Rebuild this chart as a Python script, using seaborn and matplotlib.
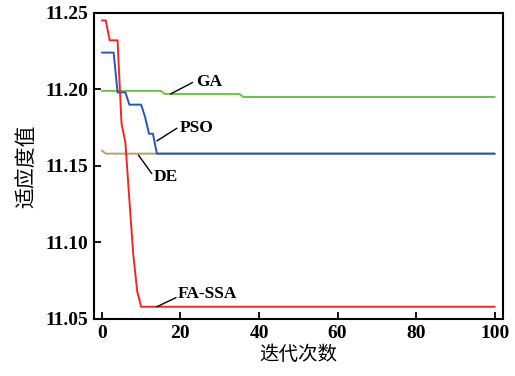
import numpy as np
import pandas as pd
import seaborn as sns
import matplotlib
matplotlib.use('Agg')
import matplotlib.pyplot as plt

# iterations 0..100
iters = list(range(101))

# FA-SSA
fassa_head = [11.245, 11.245, 11.232, 11.232, 11.232, 11.178, 11.165, 11.128, 11.092, 11.068, 11.058]
fassa = fassa_head + [11.058] * (101 - len(fassa_head))

# PSO
pso_head = [11.224, 11.224, 11.224, 11.224, 11.198, 11.198, 11.198, 11.190, 11.190, 11.190,
            11.190, 11.182, 11.171, 11.171, 11.158]
pso = pso_head + [11.158] * (101 - len(pso_head))

# GA
ga = [11.199] * 16 + [11.197] * 20 + [11.195] * 65

# DE
de = [11.160] + [11.158] * 100

series_names = ['GA', 'PSO', 'DE', 'FA-SSA']
series_vals = [ga, pso, de, fassa]
colors = {'GA': '#6cc244', 'PSO': '#2458b2', 'DE': '#b9a062', 'FA-SSA': '#f22626'}

df = pd.DataFrame({
    'iter': iters * 4,
    'value': [v for s in series_vals for v in s],
    'algo': [n for n in series_names for _ in iters],
})

sns.set_style('ticks')
plt.rcParams['font.family'] = ['Liberation Serif', 'Noto Sans CJK SC']
plt.rcParams['xtick.direction'] = 'in'
plt.rcParams['ytick.direction'] = 'in'
for k in ['text.color', 'axes.labelcolor', 'xtick.color', 'ytick.color', 'axes.edgecolor']:
    plt.rcParams[k] = 'black'

fig = plt.figure(figsize=(5.15, 3.76), dpi=100)
ax = fig.add_axes([0.1825, 0.1516, 0.7935, 0.8144])

# draw DE first so PSO covers it, FA-SSA last
for name in ['DE', 'GA', 'PSO', 'FA-SSA']:
    sns.lineplot(data=df[df['algo'] == name], x='iter', y='value', color=colors[name],
                 lw=1.4, ax=ax, legend=False)

ax.set_xlim(-2, 102)
ax.set_ylim(11.05, 11.25)
ax.set_xticks([0, 20, 40, 60, 80, 100])
ax.set_yticks([11.05, 11.10, 11.15, 11.20, 11.25])
ax.set_yticklabels(['11.05', '11.10', '11.15', '11.20', '11.25'])
ax.tick_params(labelsize=14, length=5, width=1.3, pad=4)
for lab in ax.get_xticklabels() + ax.get_yticklabels():
    lab.set_fontweight('bold')
for sp in ax.spines.values():
    sp.set_linewidth(1.5)

ax.set_xlabel('迭代次数', fontsize=14, family=['Noto Sans CJK SC'], labelpad=2)
ax.set_ylabel('适应度值', fontsize=15, family=['Noto Sans CJK SC'], labelpad=6)

# labels with leader lines
notes = [
    ('GA', (17.5, 11.197), (23.1, 11.2045), (24.0, 11.2045)),
    ('PSO', (14.0, 11.1663), (19.1, 11.1746), (19.8, 11.1750)),
    ('DE', (9.3, 11.1571), (12.7, 11.1450), (13.2, 11.1430)),
    ('FA-SSA', (14.0, 11.0580), (18.9, 11.0640), (19.4, 11.0665)),
]
for txt, p0, p1, pt in notes:
    ax.plot([p0[0], p1[0]], [p0[1], p1[1]], color='black', lw=1.0)
    ax.text(pt[0], pt[1], txt, fontsize=12.5, fontweight='bold', va='center', ha='left')

fig.savefig('out.png', dpi=100)
